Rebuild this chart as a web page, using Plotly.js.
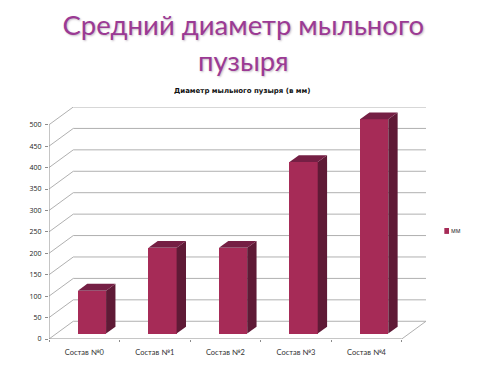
<!DOCTYPE html>
<html><head><meta charset="utf-8">
<script src="https://cdn.plot.ly/plotly-3.0.1.min.js"></script>
<style>html,body{margin:0;padding:0;background:#fff}#c{width:480px;height:377px}</style>
</head><body><div id="c"></div>
<script>
const categories = ["Состав №0","Состав №1","Состав №2","Состав №3","Состав №4"];
const values = [100,200,200,400,500];
const yTicks = [0,50,100,150,200,250,300,350,400,450,500];
const seriesName = "мм";
const pageTitle = "Средний диаметр мыльного<br>пузыря";
const chartTitle = "Диаметр мыльного пузыря (в мм)";

// oblique projection constants, in axis units
const depthX = 0.344, depthY = 41.4;   // front plane -> back wall
const barShiftX = 0.109, barShiftY = 12.8; // front plane -> bar face
const barW = 0.40, barDX = 0.133, barDY = 16;
const front = "#a62b57", side = "#5f1a36", top_ = "#751f44";
const gridC = "#b0b0b0", axisC = "#8c8c8c";

const xs = categories.map((_,i)=>i+barShiftX);
const shapes = [];
const ln = (x0,y0,x1,y1,c)=>shapes.push({type:"line",layer:"below",xref:"x",yref:"y",x0,y0,x1,y1,line:{color:c,width:1}});
yTicks.forEach(v=>{
  ln(-0.5,v,-0.5+depthX,v+depthY,gridC);
  ln(-0.5+depthX,v+depthY,4.5+depthX,v+depthY,gridC);
});
ln(4.5,0,4.5+depthX,depthY,gridC);
ln(-0.5,0,-0.5,500,axisC);
ln(-0.5,0,4.5,0,axisC);
// legend swatch, outside the plot area
shapes.push({type:"rect",xref:"paper",yref:"paper",x0:1.0486,x1:1.061,y0:0.453,y1:0.4785,fillcolor:front,line:{width:0}});

const traces = [{
  type:"bar",name:seriesName,x:xs,y:values,base:xs.map(()=>barShiftY),width:barW,
  marker:{color:front,line:{width:0}},hoverinfo:"skip",showlegend:false
}];
values.forEach((v,i)=>{
  const l = xs[i]-barW/2, r = xs[i]+barW/2, t = v+barShiftY, b = barShiftY;
  traces.push({type:"scatter",mode:"lines",x:[r,r+barDX,r+barDX,r,r],y:[b,b+barDY,t+barDY,t,b],
    fill:"toself",fillcolor:side,line:{width:0,color:side},showlegend:false,hoverinfo:"skip"});
  traces.push({type:"scatter",mode:"lines",x:[l,l+barDX,r+barDX,r,l],y:[t,t+barDY,t+barDY,t,t],
    fill:"toself",fillcolor:top_,line:{width:0,color:top_},showlegend:false,hoverinfo:"skip"});
});

const layout = {
  width:480,height:377,paper_bgcolor:"#fff",plot_bgcolor:"#fff",
  margin:{l:49,r:54,t:106.5,b:37.5,pad:0},
  bargap:0,
  title:{text:pageTitle,x:0.507,xanchor:"center",y:0.907,yanchor:"middle",
    font:{family:"Lato, 'Open Sans', sans-serif",size:27.5,color:"#9b3a94",shadow:"1px 1px 2px rgba(90,60,90,0.35)"}},
  xaxis:{range:[-0.5,4.5+depthX],tickmode:"array",tickvals:[0,1,2,3,4],ticktext:categories,
    showgrid:false,zeroline:false,showline:false,ticks:"",ticklabelstandoff:7,
    tickfont:{family:"Lato, 'Open Sans', sans-serif",size:7.5,color:"#333"},
    minor:{tickmode:"array",tickvals:[-0.5,0.5,1.5,2.5,3.5,4.5],ticks:"outside",ticklen:2,tickcolor:axisC,showgrid:false}},
  yaxis:{range:[0,500+depthY],tickmode:"array",tickvals:yTicks,ticks:"outside",ticklen:3,tickcolor:axisC,
    showgrid:false,zeroline:false,showline:false,ticklabelstandoff:2,
    tickfont:{family:"'Open Sans', sans-serif",size:7,color:"#222"}},
  showlegend:false,
  shapes,
  annotations:[
    {xref:"paper",yref:"paper",x:0.512,y:1.07,xanchor:"center",yanchor:"middle",showarrow:false,
     text:"<b>"+chartTitle+"</b>",font:{family:"'DejaVu Sans', sans-serif",size:7,color:"#111"}},
    {xref:"paper",yref:"paper",x:1.0597,y:0.466,xanchor:"left",yanchor:"middle",showarrow:false,
     text:seriesName,font:{family:"'Open Sans', sans-serif",size:6.5,color:"#333"}}
  ]
};
Plotly.newPlot("c",traces,layout,{displayModeBar:false,staticPlot:true});
</script></body></html>
